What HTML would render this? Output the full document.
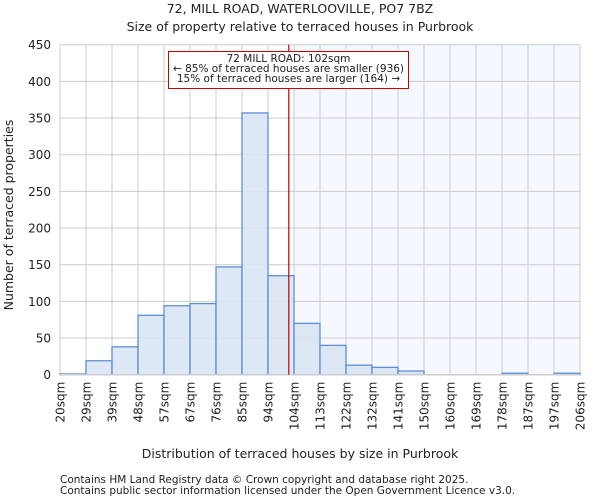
<!DOCTYPE html>
<html><head><meta charset="utf-8"><style>
body{margin:0;background:#fff;font-family:"DejaVu Sans","Liberation Sans",sans-serif;}
svg text{font-family:"DejaVu Sans","Liberation Sans",sans-serif;fill:#222;}
</style></head><body>
<svg id="chart" width="600" height="500" xmlns="http://www.w3.org/2000/svg">
<text x="300" y="13" text-anchor="middle" font-size="12.5">72, MILL ROAD, WATERLOOVILLE, PO7 7BZ</text>
<text x="300" y="31" text-anchor="middle" font-size="12.5">Size of property relative to terraced houses in Purbrook</text>
<g id="plot"></g>
<text x="300" y="458" text-anchor="middle" font-size="12.5">Distribution of terraced houses by size in Purbrook</text>
<text transform="translate(13,215) rotate(-90)" text-anchor="middle" font-size="12.5">Number of terraced properties</text>
<text x="60" y="483" font-size="10.5" fill="#444">Contains HM Land Registry data © Crown copyright and database right 2025.</text>
<text x="60" y="494" font-size="10.5" fill="#444">Contains public sector information licensed under the Open Government Licence v3.0.</text>
</svg>
<script>
const binLabels=["20sqm","29sqm","39sqm","48sqm","57sqm","67sqm","76sqm","85sqm","94sqm","104sqm","113sqm","122sqm","132sqm","141sqm","150sqm","160sqm","169sqm","178sqm","187sqm","197sqm","206sqm"];
const counts=[1,19,38,81,94,97,147,357,135,70,40,13,10,5,0,0,0,2,0,2];
const yTicks=[0,50,100,150,200,250,300,350,400,450];
const propertyBin=8.8;
const highlightFromBin=9;
const NS="http://www.w3.org/2000/svg";
const L=60,R=580,T=44.7,B=374.7,yMax=450;
const bw=(R-L)/counts.length;
const xs=i=>L+i*bw;
const ys=v=>B-(v/yMax)*(B-T);
const g=document.getElementById('plot');
function mk(tag,attrs){const e=document.createElementNS(NS,tag);for(const k in attrs)e.setAttribute(k,attrs[k]);g.appendChild(e);return e;}
let e=mk('rect',{x:xs(highlightFromBin),y:T,width:R-xs(highlightFromBin),height:B-T,fill:'#f5f8fe'});


yTicks.forEach(v=>{
 let l=mk('line',{x1:L,x2:R,y1:ys(v),y2:ys(v),stroke:'#ccc','stroke-width':1});
 
 
 let t=mk('text',{x:L-9,y:ys(v)+4.5,'text-anchor':'end','font-size':'12'});
 t.textContent=v;
 
 
});
binLabels.forEach((lab,i)=>{
 let l=mk('line',{x1:xs(i),x2:xs(i),y1:T,y2:B,stroke:'#ccc','stroke-width':1});
 
 
 let t=mk('text',{transform:`translate(${xs(i)+4.5},${B+7}) rotate(-90)`,'text-anchor':'end','font-size':'12'});
 t.textContent=lab;
 
 
});
counts.forEach((c,i)=>{
 let r=mk('rect',{x:xs(i),y:ys(c),width:bw,height:B-ys(c),fill:'#dae4f3',stroke:'#5b8fd6','stroke-width':1.3,'fill-opacity':0.9});
 
 
});
e=mk('line',{x1:L,x2:R,y1:B,y2:B,stroke:'#ccc','stroke-width':1.5});


const px=xs(propertyBin);
e=mk('line',{x1:px,x2:px,y1:T,y2:B,stroke:'#b00','stroke-width':1.2});


e=mk('rect',{x:168.5,y:51.5,width:240,height:37,fill:'#fff',stroke:'#c00','stroke-width':1});


["72 MILL ROAD: 102sqm","← 85% of terraced houses are smaller (936)","15% of terraced houses are larger (164) →"].forEach((s,i)=>{
 let t=mk('text',{x:288.5,y:62+i*10,'text-anchor':'middle','font-size':'10.5'});
 t.textContent=s;
 
 
});
</script>
</body></html>
